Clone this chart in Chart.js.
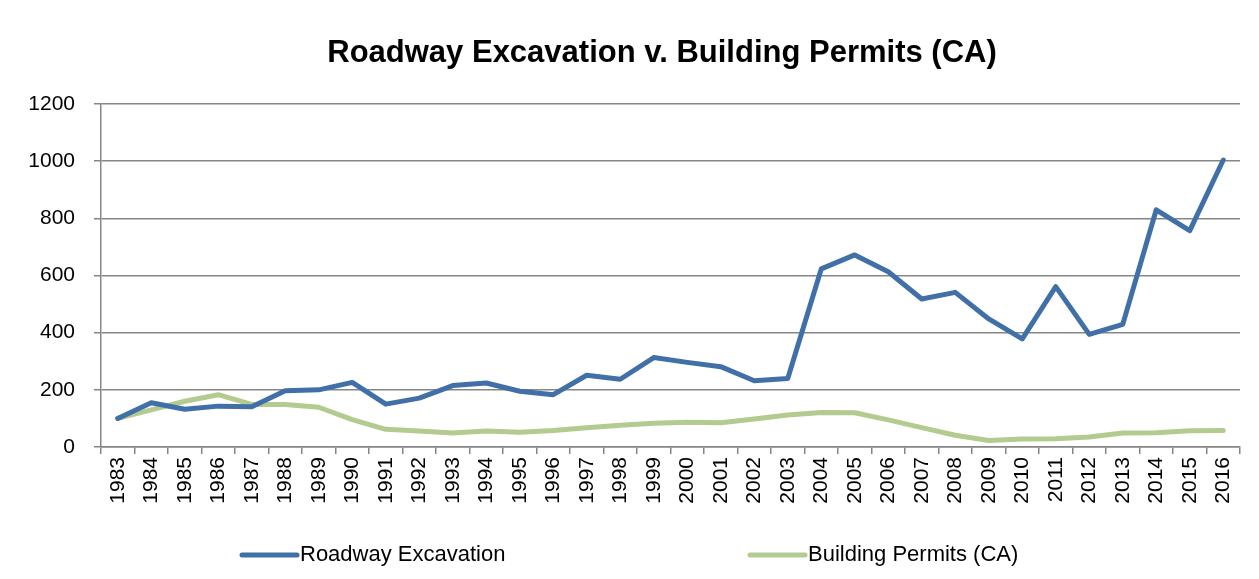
<!DOCTYPE html>
<html>
<head>
<meta charset="utf-8">
<script src="https://cdn.jsdelivr.net/npm/chart.js@4.4.1/dist/chart.umd.min.js"></script>
<style>
  html, body { margin: 0; padding: 0; background: #fff; }
  #wrap { width: 1259px; height: 579px; }
</style>
</head>
<body>
<div id="wrap"><canvas id="c" width="1259" height="579"></canvas></div>
<script>
const chartTitle = "Roadway Excavation v. Building Permits (CA)";
const years = ["1983","1984","1985","1986","1987","1988","1989","1990","1991","1992","1993","1994","1995","1996","1997","1998","1999","2000","2001","2002","2003","2004","2005","2006","2007","2008","2009","2010","2011","2012","2013","2014","2015","2016"];
const roadwayExcavation = [100,155,132,143,141,197,200,226,150,171,215,224,195,183,251,237,313,296,281,232,240,623,672,613,518,541,448,378,561,394,429,830,757,1004];
const buildingPermits = [100,130,160,183,149,149,139,96,62,56,49,56,52,58,67,76,83,87,85,98,112,121,120,95,68,41,23,28,29,35,49,50,57,58];
const seriesNames = ["Roadway Excavation", "Building Permits (CA)"];
const yTicks = [0,200,400,600,800,1000,1200];

const blue = '#4170A8';
const green = '#B3CB8F';
const gridGray = '#868686';
const FONT = "'Liberation Sans', Arial, sans-serif";

const titleAndLegend = {
  id: 'titleAndLegend',
  afterDraw(chart) {
    const ctx = chart.ctx;
    ctx.save();
    // title
    ctx.fillStyle = '#000';
    ctx.font = "bold 31px " + FONT;
    ctx.textAlign = 'center';
    ctx.textBaseline = 'middle';
    ctx.fillText(chartTitle, 662, 53);
    // legend
    const items = [
      { x: 242, lineEnd: 297 },
      { x: 750, lineEnd: 805 }
    ];
    const y = 555;
    chart.data.datasets.forEach((ds, i) => {
      const it = items[i];
      ctx.strokeStyle = ds.borderColor;
      ctx.lineWidth = 5;
      ctx.lineCap = 'round';
      ctx.beginPath();
      ctx.moveTo(it.x, y);
      ctx.lineTo(it.lineEnd, y);
      ctx.stroke();
      ctx.fillStyle = '#000';
      ctx.font = "22px " + FONT;
      ctx.textBaseline = 'middle';
      ctx.textAlign = 'left';
      ctx.fillText(ds.label, it.lineEnd + 3, y);
    });
    ctx.restore();
  }
};

new Chart(document.getElementById('c'), {
  type: 'line',
  data: {
    labels: years,
    datasets: [
      { label: seriesNames[0], data: roadwayExcavation, borderColor: blue, backgroundColor: blue, borderWidth: 5, pointRadius: 0, tension: 0, borderJoinStyle: 'round', borderCapStyle: 'round' },
      { label: seriesNames[1], data: buildingPermits, borderColor: green, backgroundColor: green, borderWidth: 5, pointRadius: 0, tension: 0, borderJoinStyle: 'round', borderCapStyle: 'round' }
    ]
  },
  options: {
    responsive: false,
    animation: false,
    layout: { padding: { left: 0, right: 19, top: 104, bottom: 62 } },
    plugins: {
      legend: { display: false },
      tooltip: { enabled: false },
      title: { display: false }
    },
    scales: {
      x: {
        offset: true,
        grid: { offset: true, drawOnChartArea: false, drawTicks: true, tickLength: 7, color: gridGray, lineWidth: 1.5 },
        border: { display: true, color: gridGray, width: 1.5 },
        ticks: { color: '#000', font: { family: FONT, size: 21 }, maxRotation: 90, minRotation: 90, padding: 3, autoSkip: false },
        afterFit(scale) { scale.height = 70; }
      },
      y: {
        min: 0, max: 1200,
        afterBuildTicks(scale) { scale.ticks = yTicks.map(v => ({ value: v })); },
        grid: { drawTicks: true, tickLength: 7, color: gridGray, lineWidth: 1.5 },
        border: { display: true, color: gridGray, width: 1.5 },
        ticks: { color: '#000', font: { family: FONT, size: 21 }, padding: 19, callback: (v) => String(v) },
        afterFit(scale) { scale.width = 101; }
      }
    }
  },
  plugins: [titleAndLegend]
});
</script>
</body>
</html>
